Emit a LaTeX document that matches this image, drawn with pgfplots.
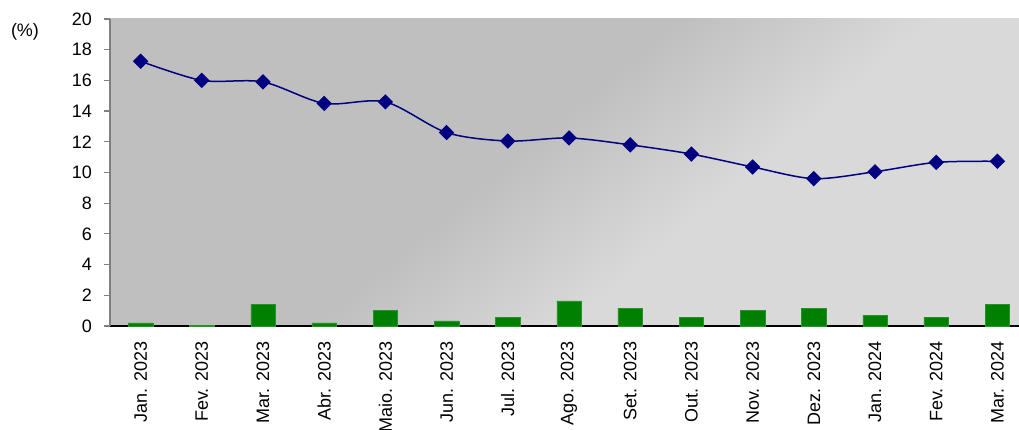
\documentclass[border=0pt]{standalone}
\usepackage{pgfplots}
\pgfplotsset{compat=1.18}
\usepackage{fontspec}
\setmainfont{Liberation Sans}
\usetikzlibrary{calc}
\definecolor{navyline}{RGB}{0,0,128}
\definecolor{barg}{RGB}{0,128,0}
\definecolor{bgdark}{RGB}{191,191,191}
\definecolor{bglight}{RGB}{217,217,217}
\pgfdeclarehorizontalshading{bgshade}{100bp}{color(0bp)=(bgdark); color(46bp)=(bgdark); color(60bp)=(bglight); color(100bp)=(bglight)}
\pgfplotstableread{
x line bar
0 17.25 0.20
1 16.00 0.05
2 15.90 1.41
3 14.50 0.20
4 14.60 1.04
5 12.60 0.33
6 12.05 0.57
7 12.25 1.63
8 11.80 1.15
9 11.20 0.57
10 10.36 1.04
11 9.60 1.15
12 10.05 0.70
13 10.66 0.57
14 10.73 1.39
}\datatable
\begin{document}
\begin{tikzpicture}
\begin{axis}[name=ax,
  scale only axis, width=918pt, height=307pt,
  xmin=-0.5, xmax=14.5, ymin=0, ymax=20,
  axis x line*=bottom, axis y line*=left,
  x axis line style={black, line width=1.2pt},
  y axis line style={gray, line width=1.2pt},
  axis background/.style={shade, shading=bgshade, shading angle=-50},
  ytick={0,2,...,20},
  tick align=outside,
  ytick style={gray, line width=1.2pt},
  major tick length=6pt,
  xtick={0,...,14},
  xticklabels={Jan. 2023, Fev. 2023, Mar. 2023, Abr. 2023, Maio. 2023, Jun. 2023, Jul. 2023, Ago. 2023, Set. 2023, Out. 2023, Nov. 2023, Dez. 2023, Jan. 2024, Fev. 2024, Mar. 2024},
  xtick style={draw=none},
  extra x ticks={-0.5,0.5,...,14.5},
  extra x tick labels={},
  extra x tick style={major tick length=12pt, tick align=center, tick style={black, line width=1.2pt}},
  x tick label style={font=\fontsize{18}{21}\selectfont, yshift=-6pt, rotate=90, anchor=east},
  yticklabel style={font=\fontsize{18}{21}\selectfont, anchor=east, inner xsep=0pt, xshift=-12pt},
  /pgf/number format/assume math mode=true,
  clip=false,
]
\addplot[ybar, bar width=0.4, fill=barg, draw=barg!85!white] table[x=x, y=bar] {\datatable};
\addplot[navyline, line width=1.5pt, smooth, mark=square*, mark size=4.7pt, mark options={rotate=45, fill=navyline, draw=navyline, solid}] table[x=x, y=line] {\datatable};
\end{axis}
\node[font=\fontsize{18}{21}\selectfont] at ($(ax.south west)+(-85pt,294pt)$) {(\%)};
\pgfresetboundingbox
\path[use as bounding box] ($(ax.south west)+(-110pt,-104pt)$) rectangle ($(ax.south west)+(909pt,326pt)$);
\end{tikzpicture}
\end{document}
